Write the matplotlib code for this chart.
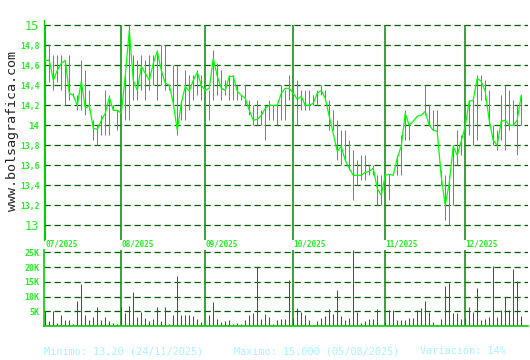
import matplotlib
matplotlib.use('Agg')
import matplotlib.pyplot as plt
import numpy as np

# ---------------- data ----------------
months = ['07/2025', '08/2025', '09/2025', '10/2025', '11/2025', '12/2025']
month_start = [0, 19, 40, 62, 85, 105]

close = [14.65, 14.65, 14.45, 14.55, 14.62, 14.65, 14.32, 14.30, 14.20, 14.44,
         14.17, 14.20, 13.97, 13.96, 14.05, 14.12, 14.28, 14.15, 14.15, 14.12,
         14.50, 14.95, 14.45, 14.35, 14.59, 14.52, 14.45, 14.62, 14.74, 14.55,
         14.42, 14.40, 14.22, 13.95, 14.22, 14.39, 14.34, 14.45, 14.53, 14.40,
         14.35, 14.37, 14.67, 14.49, 14.37, 14.35, 14.49, 14.49, 14.34, 14.30,
         14.27, 14.15, 14.05, 14.06, 14.10, 14.17, 14.20, 14.20, 14.20, 14.32,
         14.37, 14.37, 14.32, 14.26, 14.29, 14.20, 14.20, 14.22, 14.32, 14.35,
         14.27, 14.09, 13.92, 13.74, 13.79, 13.65, 13.57, 13.50, 13.50, 13.50,
         13.53, 13.54, 13.57, 13.37, 13.30, 13.50, 13.51, 13.50, 13.67, 13.79,
         14.12, 14.00, 14.04, 14.09, 14.10, 14.14, 14.00, 13.95, 13.94, 13.49,
         13.20, 13.42, 13.79, 13.70, 13.84, 13.99, 14.24, 14.25, 14.47, 14.44,
         14.34, 14.05, 13.85, 13.80, 14.04, 14.05, 14.00, 14.00, 14.05, 14.30]

high = [14.65, 14.80, 14.70, 14.70, 14.70, 14.63, 14.70, 14.32, 14.30, 14.65,
        14.55, 14.35, 14.05, 14.00, 14.10, 14.35, 14.30, 14.20, 14.15, 14.15,
        14.50, 15.00, 14.70, 14.65, 14.70, 14.65, 14.70, 14.70, 14.75, 14.80,
        14.80, 14.40, 14.60, 14.60, 14.25, 14.55, 14.50, 14.50, 14.55, 14.50,
        14.55, 14.35, 14.75, 14.62, 14.55, 14.45, 14.50, 14.50, 14.40, 14.30,
        14.40, 14.25, 14.20, 14.25, 14.15, 14.20, 14.25, 14.20, 14.20, 14.40,
        14.35, 14.50, 14.50, 14.45, 14.35, 14.35, 14.35, 14.30, 14.35, 14.40,
        14.35, 14.25, 14.15, 14.05, 13.95, 13.95, 13.85, 13.75, 13.65, 13.70,
        13.70, 13.60, 13.60, 13.50, 13.50, 13.50, 13.51, 13.50, 13.70, 13.90,
        14.15, 14.00, 14.04, 14.09, 14.10, 14.40, 14.20, 14.15, 14.15, 13.55,
        13.50, 13.50, 13.80, 13.95, 13.90, 14.05, 14.25, 14.25, 14.50, 14.50,
        14.45, 14.35, 14.00, 13.95, 14.30, 14.40, 14.35, 14.25, 14.20, 14.30]

low = [14.65, 14.43, 14.35, 14.43, 14.35, 14.20, 14.25, 14.28, 14.15, 14.15,
       14.10, 14.15, 13.85, 13.80, 13.90, 13.90, 13.90, 14.15, 13.95, 14.05,
       14.05, 14.05, 14.25, 14.25, 14.35, 14.25, 14.35, 14.40, 14.25, 14.40,
       14.35, 14.35, 14.20, 13.90, 14.05, 14.05, 14.15, 14.25, 14.30, 14.25,
       14.05, 14.05, 14.25, 14.30, 14.25, 14.30, 14.25, 14.25, 14.25, 14.25,
       14.20, 14.10, 14.00, 14.00, 14.00, 13.85, 14.05, 14.05, 14.00, 14.05,
       14.05, 14.25, 14.15, 14.00, 14.15, 14.15, 14.15, 14.20, 14.20, 14.30,
       14.25, 13.95, 13.95, 13.65, 13.60, 13.65, 13.55, 13.25, 13.40, 13.45,
       13.45, 13.50, 13.50, 13.20, 13.20, 13.35, 13.25, 13.50, 13.50, 13.50,
       13.85, 13.85, 14.04, 14.09, 14.10, 14.10, 14.00, 13.95, 13.90, 13.40,
       13.05, 13.00, 13.20, 13.60, 13.70, 13.90, 13.90, 13.80, 13.85, 14.25,
       14.25, 14.00, 13.80, 13.75, 13.85, 13.75, 13.95, 14.00, 13.70, 14.00]

volume_k = [5.1, 1.7, 5.2, 1.0, 3.7, 2.0, 2.0, 0.7, 8.5, 14.3,
            3.7, 2.0, 3.1, 6.4, 2.0, 3.1, 1.7, 1.0, 0.7, 6.4,
            4.4, 6.8, 11.5, 3.1, 4.8, 2.7, 1.7, 2.4, 6.4, 1.7,
            6.4, 0.7, 3.7, 17.0, 3.7, 3.7, 3.7, 3.4, 2.4, 1.4,
            0.5, 3.7, 8.1, 2.4, 1.4, 1.7, 2.0, 0.7, 1.0, 0.7,
            2.0, 3.7, 4.4, 19.9, 2.4, 4.1, 3.1, 0.7, 2.0, 2.4,
            2.4, 15.6, 2.7, 6.1, 4.8, 3.7, 2.0, 0.3, 1.7, 2.7,
            3.4, 5.8, 4.1, 12.2, 3.4, 2.0, 2.7, 25.7, 4.8, 1.0,
            1.7, 2.4, 2.4, 5.8, 0.3, 1.4, 5.4, 5.4, 2.0, 2.0,
            2.0, 2.7, 2.7, 5.4, 6.1, 8.5, 4.8, 1.4, 0.3, 2.4,
            13.6, 14.6, 4.4, 4.4, 2.4, 2.7, 6.4, 4.8, 12.9, 2.0,
            2.4, 3.1, 20.2, 3.1, 5.4, 9.8, 5.4, 19.3, 15.3, 3.4]

price_ticks = [13.0, 13.2, 13.4, 13.6, 13.8, 14.0, 14.2, 14.4, 14.6, 14.8, 15.0]
price_tick_labels = ['13', '13,2', '13,4', '13,6', '13,8', '14',
                     '14,2', '14,4', '14,6', '14,8', '15']
vol_ticks = [5, 10, 15, 20, 25]
vol_tick_labels = ['5K', '10K', '15K', '20K', '25K']

footer_texts = ['Minimo: 13,20 (24/11/2025)',
                'Maximo: 15,000 (05/08/2025)',
                'Variación: 14%']
watermark = 'www.bolsagrafica.com'

# ---------------- style ----------------
MONO = 'DejaVu Sans Mono'
LABEL_GREEN = '#22ee22'
GRID_GREEN = '#005c00'
SEP_GREEN = '#008a00'
SPINE_GREEN = '#00d000'
CLOSE_GREEN = '#00ff00'
HL_COLOR = '#1fa3ad'
VOL_RED = '#ff0000'
FOOT_COLOR = '#a8f4ff'
ONE_PX = 72.0 / 100.0   # one pixel in points at dpi=100

x = np.arange(len(close))
xlim = (-0.45, 120.7)
p_ylim = (12.853, 15.053)
v_ylim = (0, 25.78)

fig = plt.figure(figsize=(5.3, 3.6), dpi=100)
fig.patch.set_facecolor('white')

axp = fig.add_axes([0.0821, 0.3333, 0.9141, 0.6111])
axv = fig.add_axes([0.0821, 0.0944, 0.9141, 0.2111])

# ---- price panel ----
for s in ['top', 'right', 'bottom']:
    axp.spines[s].set_visible(False)
axp.spines['left'].set_color(SPINE_GREEN)
axp.spines['left'].set_linewidth(0.9)
axp.set_xlim(*xlim)
axp.set_ylim(*p_ylim)
axp.set_yticks(price_ticks)
axp.set_yticklabels(price_tick_labels)
axp.set_xticks([])
axp.tick_params(axis='y', length=0, pad=3, colors=LABEL_GREEN)
for lab, val in zip(axp.get_yticklabels(), price_ticks):
    lab.set_family(MONO)
    if val in (13.0, 15.0):
        lab.set_fontsize(8.5)
        lab.set_fontweight('normal')
    elif val == 14.0:
        lab.set_fontsize(6.5)
        lab.set_fontweight('bold')
    else:
        lab.set_fontsize(5.8)
        lab.set_fontweight('bold')
axp.grid(axis='y', linestyle=(0, (5, 3)), color=GRID_GREEN, linewidth=0.9)
axp.set_axisbelow(True)
axp.vlines(month_start, p_ylim[0], 15.0, color=SEP_GREEN, linewidth=1.1, zorder=1)
axp.vlines(x, low, high, colors=HL_COLOR, linewidth=ONE_PX, zorder=2, snap=True)
axp.plot(x, close, color=CLOSE_GREEN, linewidth=0.9, zorder=3)

for m, lbl in zip(month_start, months):
    axp.text(m + 0.1, -0.02, lbl, transform=axp.get_xaxis_transform(),
             ha='left', va='center', family=MONO, fontsize=5.6,
             fontweight='bold', color=LABEL_GREEN, clip_on=False)

# ---- volume panel ----
for s in ['top', 'right']:
    axv.spines[s].set_visible(False)
for s in ['left', 'bottom']:
    axv.spines[s].set_color(SPINE_GREEN)
    axv.spines[s].set_linewidth(1.2)
axv.set_xlim(*xlim)
axv.set_ylim(*v_ylim)
axv.set_yticks(vol_ticks)
axv.set_yticklabels(vol_tick_labels)
axv.set_xticks([])
axv.tick_params(axis='y', length=0, pad=3, colors=LABEL_GREEN)
for lab in axv.get_yticklabels():
    lab.set_family(MONO)
    lab.set_fontsize(6)
    lab.set_fontweight('bold')
axv.grid(axis='y', linestyle=(0, (5, 3)), color=GRID_GREEN, linewidth=0.9)
axv.set_axisbelow(True)
axv.vlines(month_start[1:], 0, v_ylim[1], color=SEP_GREEN, linewidth=1.1, zorder=1)
axv.vlines(x, 0, volume_k, colors=VOL_RED, linewidth=ONE_PX, zorder=2, snap=True)

# ---- watermark and footer ----
fig.text(0.024, 0.6375, watermark, rotation=90, ha='center', va='center',
         family=MONO, fontsize=9.6, color='#222222')

foot_x = [44.5, 234, 420]
for fx, t in zip(foot_x, footer_texts):
    fig.text(fx / 530, 1 - 351 / 360, t, ha='left', va='center',
             family=MONO, fontsize=7.4, color=FOOT_COLOR)

fig.savefig('out.png', dpi=100, facecolor='white')
